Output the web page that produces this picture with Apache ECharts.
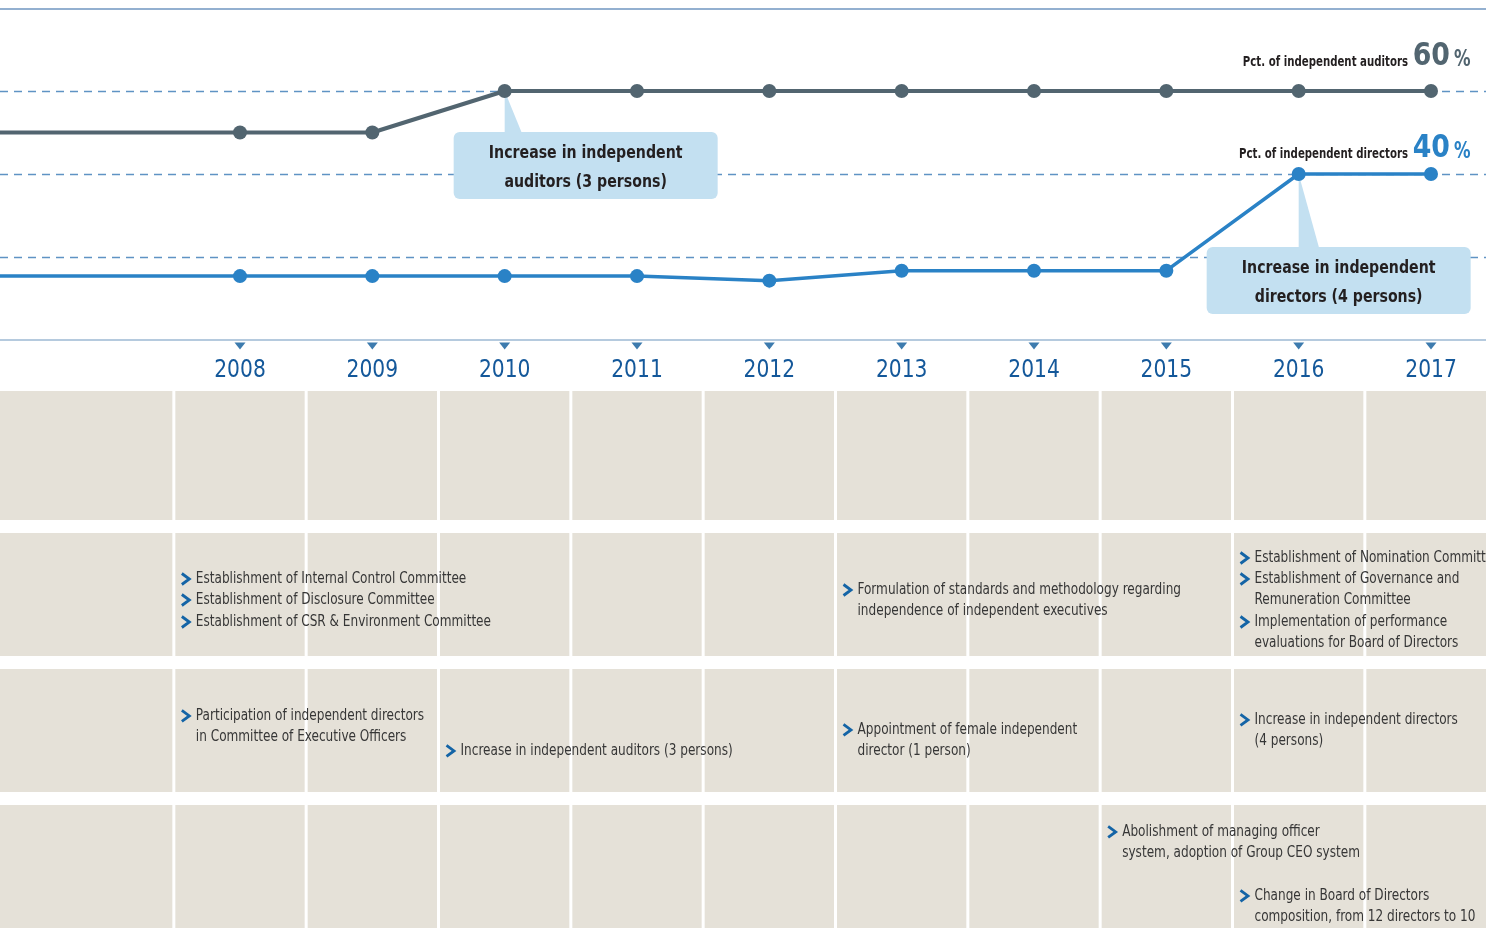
<!DOCTYPE html>
<html><head><meta charset="utf-8">
<script src="https://cdn.jsdelivr.net/npm/echarts@6/dist/echarts.min.js"></script>
<style>html,body{margin:0;padding:0;background:#fff}#c{width:1486px;height:928px}</style>
</head><body><div id="c"></div>
<script>
// ---------- DATA ----------
const years = [2006, 2007, 2008, 2009, 2010, 2011, 2012, 2013, 2014, 2015, 2016, 2017];
const visibleYears = [2008, 2009, 2010, 2011, 2012, 2013, 2014, 2015, 2016, 2017];
const auditorsPct = [50, 50, 50, 50, 60, 60, 60, 60, 60, 60, 60, 60];
const directorsPct = [15.4, 15.4, 15.4, 15.4, 15.4, 15.4, 14.3, 16.7, 16.7, 16.7, 40, 40];
const seriesLabels = ['Pct. of independent auditors', 'Pct. of independent directors'];
const calloutYears = [2010, 2016];
const calloutValues = [60, 40];
const calloutTexts = ['Increase in independent\nauditors (3 persons)', 'Increase in independent\ndirectors (4 persons)'];
const tableRows = [0, 1, 2, 3];
const columnBoundaries = [2007.5, 2008.5, 2009.5, 2010.5, 2011.5, 2012.5, 2013.5, 2014.5, 2015.5, 2016.5];
const eventYears = [2008, 2008, 2008, 2013, 2016, 2016, 2016, 2008, 2010, 2013, 2016, 2015, 2016];
const eventRows  = [1, 1, 1, 1, 1, 1, 1, 2, 2, 2, 2, 3, 3];
const eventTexts = [
  'Establishment of Internal Control Committee',
  'Establishment of Disclosure Committee',
  'Establishment of CSR & Environment Committee',
  'Formulation of standards and methodology regarding\nindependence of independent executives',
  'Establishment of Nomination Committee',
  'Establishment of Governance and\nRemuneration Committee',
  'Implementation of performance\nevaluations for Board of Directors',
  'Participation of independent directors\nin Committee of Executive Officers',
  'Increase in independent auditors (3 persons)',
  'Appointment of female independent\ndirector (1 person)',
  'Increase in independent directors\n(4 persons)',
  'Abolishment of managing officer\nsystem, adoption of Group CEO system',
  'Change in Board of Directors\ncomposition, from 12 directors to 10'
];

// ---------- LAYOUT / STYLE ----------
const NARROW = '"DejaVu Sans Condensed", "DejaVu Sans", sans-serif';
const X_MIN = 2006.1864, X_MAX = 2017.4156;
const ROW_MAX = 3.9045; // table grid: 1 row unit = 136px
const eventFirstLineOffset = [46, 67, 89, 57, 25, 46, 89, 47, 82, 61, 51, 27, 91];
const LINE_H = 21.3;
const calloutLayout = [{dx: -51, dy: 41, tip: 18}, {dx: -92, dy: 73, tip: 21}];
const endLabelBaseline = [-23, -13.5];
const AUD_COLOR = '#526570', DIR_COLOR = '#2a82c6';
const lineColors = [AUD_COLOR, DIR_COLOR];

function txt(x, y, text, o) {
  return {type: 'text', x: x, y: y, scaleX: o.sx || 1,
    style: {text: text, fontFamily: NARROW, fontSize: o.fs, fontWeight: o.fw || 'normal', fill: o.fill,
            align: o.align || 'left', verticalAlign: o.va || 'middle', lineHeight: o.lh}};
}
function lineData(vals) {
  return years.map((y, i) => {
    const item = {value: [y, vals[i]]};
    if (y < visibleYears[0]) item.symbol = 'none';
    return item;
  });
}

const chart = echarts.init(document.getElementById('c'));
chart.setOption({
  backgroundColor: '#ffffff',
  animation: false,
  grid: [
    {left: 0, right: 0, top: 8, bottom: 588},
    {left: 0, right: 0, top: 397, bottom: 0}
  ],
  xAxis: [
    {type: 'value', gridIndex: 0, min: X_MIN, max: X_MAX, position: 'bottom',
     axisLine: {show: true, lineStyle: {color: '#9db9d3', width: 1.5}}, axisTick: {show: false}, axisLabel: {show: false}, splitLine: {show: false}},
    {type: 'value', gridIndex: 1, min: X_MIN, max: X_MAX, show: false},
    {type: 'value', gridIndex: 0, min: X_MIN, max: X_MAX, position: 'top', offset: -1,
     axisLine: {show: true, lineStyle: {color: '#6f96c0', width: 1.5}}, axisTick: {show: false}, axisLabel: {show: false}, splitLine: {show: false}}
  ],
  yAxis: [
    {type: 'value', gridIndex: 0, min: 0, max: 80, interval: 20,
     axisLine: {show: false}, axisTick: {show: false}, axisLabel: {show: false},
     splitLine: {show: true, showMinLine: false, showMaxLine: false, lineStyle: {color: '#5f93c4', width: 1.4, type: [8, 6]}}},
    {type: 'value', gridIndex: 1, min: 0, max: ROW_MAX, inverse: true, show: false, splitLine: {show: false}}
  ],
  series: [
    { // table row bands
      type: 'custom', xAxisIndex: 1, yAxisIndex: 1, z: 1, silent: true, clip: false,
      data: tableRows.map(r => [X_MIN, r]),
      renderItem(params, api) {
        const row = api.value(1);
        let top = api.coord([X_MIN, row])[1];
        let h = api.size([0, 1])[1] - 13;
        if (row === 0) { top -= 6; h += 6; }
        return {type: 'rect', shape: {x: params.coordSys.x, y: top, width: params.coordSys.width, height: h}, style: {fill: '#e5e1d8'}};
      }
    },
    { // column separators
      type: 'custom', xAxisIndex: 1, yAxisIndex: 1, z: 2, silent: true, clip: false,
      data: columnBoundaries.map(b => [b, 0]),
      renderItem(params, api) {
        const x = api.coord([api.value(0), 0])[0];
        return {type: 'rect', shape: {x: x - 1.5, y: params.coordSys.y - 6, width: 3, height: params.coordSys.height + 6}, style: {fill: '#ffffff'}};
      }
    },
    { // events text
      type: 'custom', xAxisIndex: 1, yAxisIndex: 1, z: 3, silent: true, clip: false,
      data: eventYears.map((y, i) => [y, eventRows[i], i]),
      renderItem(params, api) {
        const year = api.value(0), row = api.value(1), i = api.value(2);
        const left = api.coord([year - 0.5, row])[0];
        const bandTop = api.coord([year, row])[1];
        const y0 = bandTop + eventFirstLineOffset[i];
        return {type: 'group', children: [
          {type: 'polyline', shape: {points: [[left + 8, y0 - 5.5], [left + 15.5, y0], [left + 8, y0 + 5.5]]},
           style: {stroke: '#1464a6', lineWidth: 2.8, fill: null}},
          txt(left + 22, y0 - LINE_H / 2, eventTexts[i], {fs: 16, sx: 0.84, fill: '#363636', va: 'top', lh: LINE_H})
        ]};
      }
    },
    { // callouts
      type: 'custom', xAxisIndex: 0, yAxisIndex: 0, z: 2, silent: true, clip: false,
      data: calloutYears.map((y, i) => [y, calloutValues[i], i]),
      renderItem(params, api) {
        const i = api.value(2);
        const p = api.coord([api.value(0), api.value(1)]);
        const L = calloutLayout[i];
        const bx = p[0] + L.dx, by = p[1] + L.dy, bw = 264, bh = 67;
        return {type: 'group', children: [
          {type: 'polygon', shape: {points: [[p[0], p[1]], [p[0], by + 3], [p[0] + L.tip, by + 3]]}, style: {fill: '#c3e0f1'}},
          {type: 'rect', shape: {x: bx, y: by, width: bw, height: bh, r: 6}, style: {fill: '#c3e0f1'}},
          txt(bx + bw / 2, by + bh / 2 + 2, calloutTexts[i], {fs: 18.5, fw: 'bold', sx: 0.85, fill: '#231f20', lh: 29, align: 'center'})
        ]};
      }
    },
    {
      name: seriesLabels[0], type: 'line', xAxisIndex: 0, yAxisIndex: 0, z: 5,
      data: lineData(auditorsPct),
      symbol: 'circle', symbolSize: 14, showSymbol: true,
      lineStyle: {color: AUD_COLOR, width: 4}, itemStyle: {color: AUD_COLOR}
    },
    {
      name: seriesLabels[1], type: 'line', xAxisIndex: 0, yAxisIndex: 0, z: 5,
      data: lineData(directorsPct),
      symbol: 'circle', symbolSize: 14, showSymbol: true,
      lineStyle: {color: DIR_COLOR, width: 3.5}, itemStyle: {color: DIR_COLOR}
    },
    { // end labels
      type: 'custom', xAxisIndex: 0, yAxisIndex: 0, z: 6, silent: true, clip: false,
      data: [[years[years.length - 1], auditorsPct[auditorsPct.length - 1], 0],
             [years[years.length - 1], directorsPct[directorsPct.length - 1], 1]],
      renderItem(params, api) {
        const i = api.value(2), v = api.value(1);
        const p = api.coord([api.value(0), v]);
        const base = p[1] + endLabelBaseline[i];
        const c = lineColors[i];
        return {type: 'group', children: [
          txt(p[0] - 23, base - 0.365 * 14 - 1, seriesLabels[i], {fs: 14, fw: 'bold', sx: 0.81, fill: '#231f20', align: 'right'}),
          txt(p[0] + 19, base - 0.365 * 32, String(v), {fs: 32, fw: 'bold', sx: 0.93, fill: c, align: 'right'}),
          txt(p[0] + 23, base - 0.365 * 23, '%', {fs: 23, fw: 'bold', sx: 0.8, fill: c, align: 'left'})
        ]};
      }
    },
    { // year ticks
      type: 'scatter', xAxisIndex: 0, yAxisIndex: 0, z: 6, clip: false, silent: true,
      data: visibleYears.map(y => [y, 0]),
      symbol: 'triangle', symbolRotate: 180, symbolSize: [11, 7], symbolOffset: [0, 6],
      itemStyle: {color: '#0d5a9a'}
    },
    { // year labels
      type: 'custom', xAxisIndex: 0, yAxisIndex: 0, z: 6, silent: true, clip: false,
      data: visibleYears.map(y => [y, 0]),
      renderItem(params, api) {
        const p = api.coord([api.value(0), 0]);
        return txt(p[0], p[1] + 30, String(api.value(0)), {fs: 25, sx: 0.9, fill: '#14589a', align: 'center'});
      }
    }
  ]
});
</script></body></html>
